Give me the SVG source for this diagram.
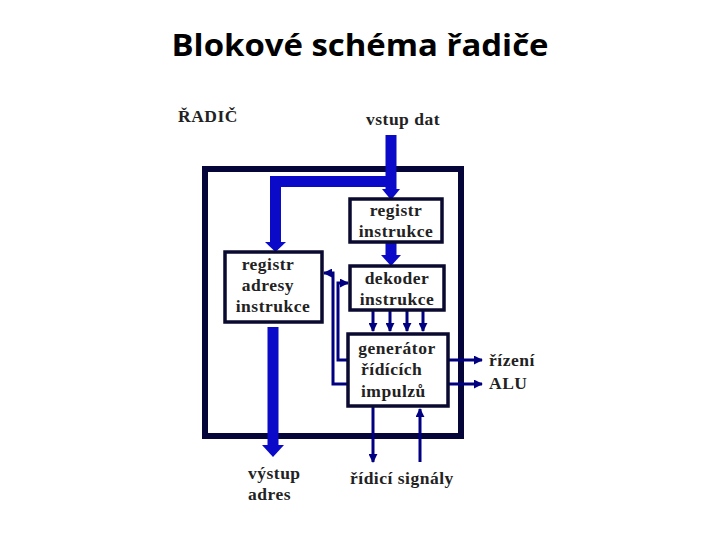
<svg xmlns="http://www.w3.org/2000/svg" width="720" height="540" viewBox="0 0 720 540">
<defs>
<style>
.title{font-family:"Open Sans","Liberation Sans",sans-serif;font-weight:bold;font-size:31px;fill:#000}
.lbl{font-family:"Liberation Serif",serif;font-weight:bold;font-size:17.5px;letter-spacing:0.5px;fill:#222}
.box{fill:#fff;stroke:#0a0a30;stroke-width:3.5}
.bus{fill:none;stroke:#0a0ac8;stroke-width:11}
.head{fill:#0a0ac8}
.thin{fill:none;stroke:#000080;stroke-width:3}
</style>
<marker id="ah" viewBox="0 0 10 10" refX="9" refY="5" markerWidth="3" markerHeight="3" orient="auto" markerUnits="strokeWidth">
<path d="M0,0 L10,5 L0,10 z" fill="#000080"/>
</marker>
</defs>
<rect width="720" height="540" fill="#fff"/>
<text class="title" x="360" y="56" text-anchor="middle" textLength="377" lengthAdjust="spacingAndGlyphs">Blokové schéma řadiče</text>

<g id="frame">
<rect x="205" y="169" width="256" height="267" fill="none" stroke="#05053a" stroke-width="6"/>
<text class="lbl" x="178" y="122">ŘADIČ</text>
</g>

<g id="connectors">
<path class="bus" d="M391,135 V191"/>
<polygon class="head" points="382,189 400,189 391,200"/>
<path class="bus" d="M391,181.5 H275.5 V244"/>
<polygon class="head" points="265,242 286,242 275.5,252"/>
<path class="bus" d="M391,242 V257"/>
<polygon class="head" points="381,255 401,255 391,266"/>
<path class="bus" d="M273,327 V448"/>
<polygon class="head" points="262,445 284,445 273,457"/>
<path class="thin" d="M373,310 V331" marker-end="url(#ah)"/>
<path class="thin" d="M390,310 V331" marker-end="url(#ah)"/>
<path class="thin" d="M407,310 V331" marker-end="url(#ah)"/>
<path class="thin" d="M423,310 V331" marker-end="url(#ah)"/>
<path class="thin" d="M348,360 H338 V283 H348" marker-end="url(#ah)"/>
<path class="thin" d="M348,384 H333 V273 H324" marker-end="url(#ah)"/>
<path class="thin" d="M448,360 H482" marker-end="url(#ah)"/>
<path class="thin" d="M448,384 H482" marker-end="url(#ah)"/>
<path class="thin" d="M373,407 V462" marker-end="url(#ah)"/>
<path class="thin" d="M420,462 V409" marker-end="url(#ah)"/>
</g>

<g id="registr-instrukce">
<rect class="box" x="350" y="199" width="92" height="43"/>
<text class="lbl" x="396" y="216" text-anchor="middle">registr</text>
<text class="lbl" x="396" y="237" text-anchor="middle">instrukce</text>
</g>

<g id="dekoder">
<rect class="box" x="350" y="266" width="94" height="44"/>
<text class="lbl" x="397" y="284" text-anchor="middle">dekoder</text>
<text class="lbl" x="397" y="305" text-anchor="middle">instrukce</text>
</g>

<g id="registr-adresy">
<rect class="box" x="225" y="252" width="97" height="70"/>
<text class="lbl" x="268" y="270" text-anchor="middle">registr</text>
<text class="lbl" x="268" y="291" text-anchor="middle">adresy</text>
<text class="lbl" x="273" y="312" text-anchor="middle">instrukce</text>
</g>

<g id="generator">
<rect class="box" x="348" y="334" width="100" height="72"/>
<text class="lbl" x="397" y="354" text-anchor="middle">generátor</text>
<text class="lbl" x="361" y="375">řídících</text>
<text class="lbl" x="361" y="397">impulzů</text>
</g>

<g id="labels">
<text class="lbl" x="366" y="125">vstup dat</text>
<text class="lbl" x="489" y="366">řízení</text>
<text class="lbl" x="489" y="389">ALU</text>
<text class="lbl" x="248" y="479">výstup</text>
<text class="lbl" x="248" y="500">adres</text>
<text class="lbl" x="350" y="484">řídicí signály</text>
</g>
</svg>
